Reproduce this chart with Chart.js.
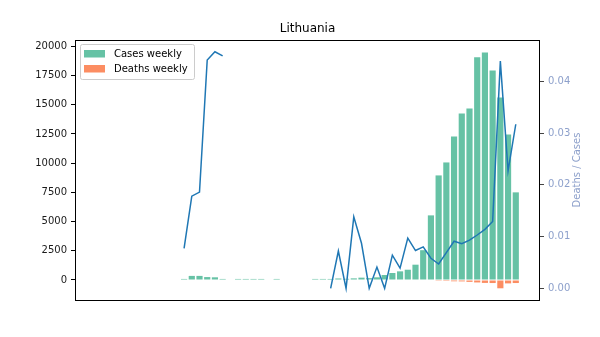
<!DOCTYPE html>
<html>
<head>
<meta charset="utf-8">
<script src="https://cdn.jsdelivr.net/npm/chart.js@4/dist/chart.umd.min.js"></script>
<style>
    html, body { margin: 0; padding: 0; background: #fff; }
</style>
</head>
<body>
<canvas id="grafico-lituania" width="600" height="337"></canvas>
<script>
/* DADOS */
const pais = "Lithuania";
// uma entrada por semana (55 semanas), 0 = sem casos
const casosSemana = [0, 0, 0, 0, 0, 0, 0, 0, 0, 0,
    0, 90, 350, 350, 250, 230, 90, 0, 90, 90,
    90, 90, 0, 90, 0, 0, 0, 0, 90, 90,
    90, 130, 100, 140, 200, 160, 230, 430, 600, 740,
    880, 1310, 2550, 5530, 8950, 10060, 12280, 14250, 14680, 19070,
    19470, 17930, 15620, 12450, 7500];
const obitosSemana = [0, 0, 0, 0, 0, 0, 0, 0, 0, 0,
    0, 0, 0, 0, 0, 0, 0, 0, 0, 0,
    0, 0, 0, 0, 0, 0, 0, 0, 0, 0,
    0, 0, 0, 0, 0, 0, 0, 0, 0, 0,
    0, 0, 0, 0, -70, -80, -110, -120, -160, -210,
    -250, -260, -710, -290, -260];
const obitosPorCaso = [null, null, null, null, null, null, null, null, null, null,
    null, 0.0077, 0.0178, 0.0186, 0.0441, 0.0457, 0.0449, null, null, null,
    null, null, null, null, null, null, null, null, null, null,
    0, 0.0072, 0, 0.0138, 0.0087, 0, 0.0041, 0, 0.0064, 0.0039,
    0.0097, 0.0073, 0.0080, 0.0058, 0.0047, 0.0069, 0.0091, 0.0086, 0.0093, 0.0103,
    0.0114, 0.0129, 0.0439, 0.0227, 0.0317];
const ticksCasos = [0, 2500, 5000, 7500, 10000, 12500, 15000, 17500, 20000];
const ticksRazao = [0, 0.01, 0.02, 0.03, 0.04];
/* FIM DADOS */

const fonte = "'DejaVu Sans', sans-serif";
const corCasos = "#66c2a5";
const corObitos = "#fc8d62";
const corLinha = "#1f77b4";
const corRazao = "#8da0cb";

function pontos(valores) {
    return valores.map((v, i) => ({ x: i, y: v }));
}

/* PLUGIN: moldura, titulo, legenda e rotulo da direita */
const extras = {
    id: 'extras',
    afterDraw(chart) {
        const ctx = chart.ctx;
        const a = chart.chartArea;
        ctx.save();
        // moldura
        ctx.strokeStyle = "#000";
        ctx.lineWidth = 1;
        ctx.strokeRect(Math.round(a.left) + 0.5, Math.round(a.top) + 0.5,
            Math.round(a.right - a.left) - 1, Math.round(a.bottom - a.top));
        // titulo
        ctx.fillStyle = "#000";
        ctx.font = "12px " + fonte;
        ctx.textAlign = "center";
        ctx.textBaseline = "middle";
        ctx.fillText(pais, (a.left + a.right) / 2, 29);
        // legenda
        ctx.fillStyle = "rgba(255,255,255,0.8)";
        ctx.strokeStyle = "#cccccc";
        ctx.beginPath();
        ctx.roundRect(80.5, 44.5, 114, 35, 2);
        ctx.fill();
        ctx.stroke();
        ctx.fillStyle = corCasos;
        ctx.fillRect(84, 50, 21, 7.5);
        ctx.fillStyle = corObitos;
        ctx.fillRect(84, 65, 21, 7.5);
        ctx.fillStyle = "#000";
        ctx.font = "10px " + fonte;
        ctx.textAlign = "left";
        ctx.fillText("Cases weekly", 114, 54);
        ctx.fillText("Deaths weekly", 114, 69);
        // rotulo eixo direito
        ctx.translate(577.5, (a.top + a.bottom) / 2);
        ctx.rotate(-Math.PI / 2);
        ctx.textAlign = "center";
        ctx.fillStyle = corRazao;
        ctx.fillText("Deaths / Cases", 0, 0);
        ctx.restore();
    }
};

/* GRÁFICO */
new Chart(document.getElementById("grafico-lituania"), {
    type: 'bar',
    data: {
        datasets: [{
            type: 'line',
            label: "Deaths / Cases",
            data: pontos(obitosPorCaso),
            yAxisID: 'y2',
            borderColor: corLinha,
            borderWidth: 1.5,
            pointRadius: 0,
            spanGaps: false,
            order: 0
        }, {
            label: "Cases weekly",
            data: pontos(casosSemana),
            backgroundColor: corCasos,
            borderWidth: 0,
            grouped: false,
            categoryPercentage: 1,
            barPercentage: 0.8,
            order: 1
        }, {
            label: "Deaths weekly",
            data: pontos(obitosSemana),
            backgroundColor: corObitos,
            borderWidth: 0,
            grouped: false,
            categoryPercentage: 1,
            barPercentage: 0.8,
            order: 2
        }]
    },
    options: {
        responsive: false,
        devicePixelRatio: 1,
        animation: false,
        layout: { padding: { top: 40, bottom: 37, left: 0, right: 0 } },
        plugins: {
            legend: { display: false },
            title: { display: false },
            tooltip: { enabled: false }
        },
        scales: {
            x: {
                type: 'linear',
                display: false,
                offset: false,
                min: -3.14,
                max: 57.14
            },
            y: {
                position: 'left',
                min: -1712,
                max: 20539,
                border: { display: false },
                grid: { drawOnChartArea: false, tickLength: 4, color: "#000" },
                ticks: {
                    color: "#1a1a1a",
                    padding: 4,
                    font: { family: fonte, size: 10 },
                    callback: v => String(v)
                },
                afterBuildTicks: s => { s.ticks = ticksCasos.map(v => ({ value: v })); },
                afterFit: s => { s.width = 75; }
            },
            y2: {
                position: 'right',
                min: -0.00226,
                max: 0.04798,
                border: { display: false },
                grid: { drawOnChartArea: false, tickLength: 4, color: "#444" },
                ticks: {
                    color: corRazao,
                    padding: 4,
                    font: { family: fonte, size: 10 },
                    callback: v => Number(v).toFixed(2)
                },
                afterBuildTicks: s => { s.ticks = ticksRazao.map(v => ({ value: v })); },
                afterFit: s => { s.width = 60; }
            }
        }
    },
    plugins: [extras]
});
/* FIM GRÁFICO */
</script>
</body>
</html>
